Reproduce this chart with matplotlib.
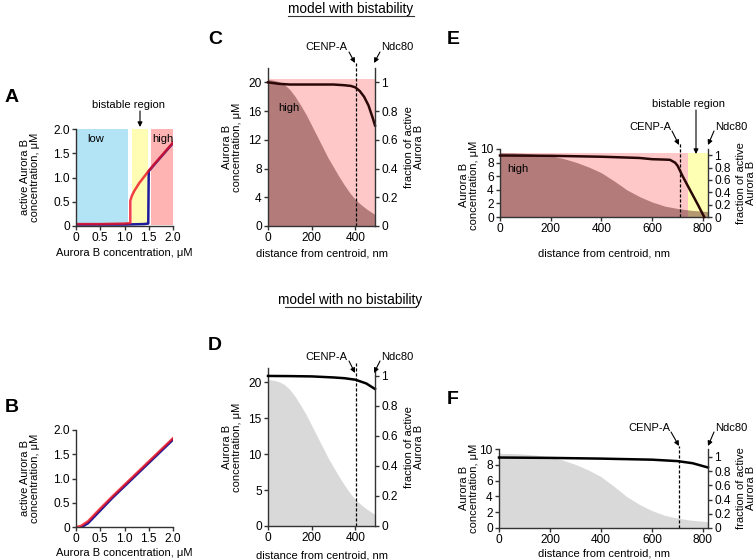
import numpy as np
import matplotlib.pyplot as plt
from matplotlib.lines import Line2D

plt.rcParams['font.family'] = ['Liberation Sans', 'DejaVu Sans']
plt.rcParams['font.size'] = 8
plt.rcParams['axes.linewidth'] = 1.0
plt.rcParams['axes.edgecolor'] = '#333333'

W, H = 756, 560
TICK_FS = 8.6

# ---- panel A : bistable dose response ----
a_low = [0.03, 1.07]
a_bist = [1.15, 1.48]
a_high = [1.54, 2.0]
a_red_x = [0, 0.5, 1.0, 1.12, 1.12, 1.15, 1.2, 1.3, 1.4, 1.5, 1.6, 1.8, 2.0]
a_red_y = [0.04, 0.04, 0.05, 0.06, 0.52, 0.62, 0.72, 0.88, 1.01, 1.14, 1.26, 1.49, 1.72]
a_blue_x = [0, 0.5, 1.0, 1.4, 1.49, 1.5, 1.6, 1.8, 2.0]
a_blue_y = [0.03, 0.03, 0.03, 0.04, 0.05, 1.13, 1.25, 1.48, 1.71]

# ---- panel B : no bistability ----
b_red_x = [0, 0.1, 0.25, 0.5, 0.75, 1.0, 1.5, 2.0]
b_red_y = [0, 0.02, 0.12, 0.38, 0.63, 0.87, 1.35, 1.83]
b_blue_x = [0.12, 0.25, 0.5, 0.75, 1.0, 1.5, 2.0]
b_blue_y = [0, 0.08, 0.34, 0.6, 0.84, 1.32, 1.8]

# ---- panels C/D : Aurora B gradient, 490 nm ----
cd_dist = [0, 25, 50, 75, 100, 125, 150, 175, 200, 225, 250, 275, 300, 325,
           350, 375, 400, 425, 450, 475, 490]
cd_conc = [20.4, 20.3, 20.1, 19.7, 19.0, 18.0, 16.8, 15.5, 14.0, 12.5, 11.0,
           9.5, 8.2, 6.9, 5.7, 4.6, 3.7, 3.0, 2.4, 1.9, 1.6]
c_frac_x = [0, 50, 100, 200, 300, 350, 380, 400, 420, 440, 460, 480, 490]
c_frac = [1.0, 0.99, 0.985, 0.985, 0.985, 0.98, 0.975, 0.965, 0.94, 0.9, 0.84, 0.75, 0.7]
d_frac_x = [0, 100, 200, 300, 350, 400, 450, 490]
d_frac = [1.0, 0.999, 0.997, 0.99, 0.985, 0.975, 0.95, 0.913]

# ---- panels E/F : Aurora B gradient, 820 nm ----
ef_dist = [0, 50, 100, 150, 200, 250, 300, 350, 400, 450, 500, 550, 600, 650,
           700, 750, 820]
ef_conc = [9.45, 9.43, 9.35, 9.2, 9.0, 8.6, 8.05, 7.35, 6.5, 5.3, 4.0, 3.0, 2.2,
           1.6, 1.25, 1.0, 0.8]
e_frac_x = [0, 200, 400, 550, 600, 640, 670, 690, 700, 720, 750, 780, 805]
e_frac = [0.995, 0.99, 0.975, 0.955, 0.935, 0.93, 0.925, 0.88, 0.83, 0.66, 0.43, 0.2, 0.0]
f_frac_x = [0, 200, 400, 600, 700, 760, 820]
f_frac = [0.99, 0.985, 0.975, 0.96, 0.94, 0.91, 0.85]

frac_ticks = [0, 0.2, 0.4, 0.6, 0.8, 1]
frac_labels = ['0', '0.2', '0.4', '0.6', '0.8', '1']


def box(x0, y0, x1, y1):
    return [x0 / W, 1 - y1 / H, (x1 - x0) / W, (y1 - y0) / H]


def ftxt(x, y, s, **kw):
    kw.setdefault('ha', 'center')
    kw.setdefault('va', 'center')
    fig.text(x / W, 1 - y / H, s, **kw)


def arrow(x0, y0, x1, y1):
    fig.add_artist(plt.Annotation('', xy=(x1, H - y1), xytext=(x0, H - y0),
                                  xycoords='figure pixels', textcoords='figure pixels',
                                  arrowprops=dict(arrowstyle='-|>', lw=0.8, color='k',
                                                  mutation_scale=7, shrinkA=0, shrinkB=0)))


def style(ax):
    ax.spines['top'].set_visible(False)
    ax.spines['right'].set_visible(False)
    ax.tick_params(length=3, width=1, pad=1.5, labelsize=TICK_FS, color='#333333')


fig = plt.figure(figsize=(W / 100, H / 100), dpi=100)

# titles
for (x0, x1, yt, s) in [(288, 414, 9, 'model with bistability'),
                        (285, 416, 300, 'model with no bistability')]:
    ftxt((x0 + x1) / 2, yt, s, fontsize=9.8)
    fig.add_artist(Line2D([x0 / W, x1 / W], [1 - (yt + 7) / H] * 2, color='#333333', lw=0.8))

# panel letters
for (x, y, s) in [(12, 97, 'A'), (12, 407, 'B'), (215, 40, 'C'), (215, 346, 'D'),
                  (453, 40, 'E'), (453, 400, 'F')]:
    ftxt(x, y, s, fontsize=14, fontweight='bold')

# ---------- A ----------
ax = fig.add_axes(box(76, 129, 173, 226))
style(ax)
ax.fill_between(a_low, 0.03, 2.0, color='#b2e4f5', lw=0)
ax.fill_between(a_bist, 0.03, 2.0, color='#fffcb4', lw=0)
ax.fill_between(a_high, 0.03, 2.0, color='#ffb4b4', lw=0)
ax.plot(a_blue_x, a_blue_y, color='#1c1c9c', lw=1.8)
ax.plot(a_red_x, a_red_y, color='#ee1020', lw=1.8, alpha=0.8)
ax.set_xlim(0, 2)
ax.set_ylim(0, 2)
ax.set_xticks([0, 0.5, 1.0, 1.5, 2.0], ['0', '0.5', '1.0', '1.5', '2.0'])
ax.set_yticks([0, 0.5, 1.0, 1.5, 2.0], ['0', '0.5', '1.0', '1.5', '2.0'])
ax.text(0.23, 1.8, 'low', va='center')
ax.text(1.57, 1.8, 'high', va='center')
ftxt(128, 105, 'bistable region')
arrow(140, 111, 140, 127)
ftxt(30, 177, 'active Aurora B\nconcentration, μM', rotation=90, linespacing=1.1)
ftxt(124, 253, 'Aurora B concentration, μM')

# ---------- B ----------
ax = fig.add_axes(box(76, 430, 173, 527))
style(ax)
ax.plot(b_blue_x, b_blue_y, color='#1c1c9c', lw=1.8)
ax.plot(b_red_x, b_red_y, color='#ee1020', lw=1.8, alpha=0.8)
ax.set_xlim(0, 2)
ax.set_ylim(0, 2)
ax.set_xticks([0, 0.5, 1.0, 1.5, 2.0], ['0', '0.5', '1.0', '1.5', '2.0'])
ax.set_yticks([0, 0.5, 1.0, 1.5, 2.0], ['0', '0.5', '1.0', '1.5', '2.0'])
ftxt(30, 478, 'active Aurora B\nconcentration, μM', rotation=90, linespacing=1.1)
ftxt(124, 553, 'Aurora B concentration, μM')


def gradient_panel(rect, dist, conc, fx, fy, xmax, ymax, fymax, yticks, xticks,
                   cenp, dash_top, bistable, line_col, fill_col, bg):
    ax = fig.add_axes(box(*rect))
    style(ax)
    if bg:
        ax.fill_between([0, bistable if bistable else xmax], 0, conc[0], color='#ffc8c8', lw=0)
        if bistable:
            ax.fill_between([bistable, xmax], 0, conc[0], color='#ffffb4', lw=0)
        ax.fill_between(dist, 0, conc, color='#5a1e1e', alpha=0.45, lw=0)
    else:
        ax.fill_between(dist, 0, conc, color=fill_col, lw=0)
    ax.set_xlim(0, xmax)
    ax.set_ylim(0, ymax)
    ax.set_yticks(yticks)
    ax.set_xticks(xticks)
    top = rect[1]
    ax.axvline(cenp, ymax=1 + (top - dash_top) / (rect[3] - rect[1]), clip_on=False,
               color='k', lw=0.9, ls=(0, (2.5, 1.5)))
    ax2 = ax.twinx()
    for s in ['top', 'left', 'bottom']:
        ax2.spines[s].set_visible(False)
    ax2.tick_params(length=3, width=1, pad=1.5, labelsize=TICK_FS, color='#333333')
    ax2.plot(fx, fy, color=line_col, lw=1.8, clip_on=False)
    ax2.set_ylim(0, fymax)
    ax2.set_yticks(frac_ticks, frac_labels)
    return ax


# ---------- C ----------
ax = gradient_panel((268, 68, 375, 226), cd_dist, cd_conc, c_frac_x, c_frac, 490, 22, 1.1,
                    [0, 4, 8, 12, 16, 20], [0, 200, 400], 405, 63, None, '#2b0808', None, True)
ax.text(45, 16.4, 'high', va='center')
ftxt(326, 47, 'CENP-A')
arrow(349, 52, 355, 63)
ftxt(397, 47, 'Ndc80')
arrow(380, 52, 374, 63)
ftxt(232, 147, 'Aurora B\nconcentration, μM', rotation=90, linespacing=1.1)
ftxt(414, 147, 'fraction of active\nAurora B', rotation=90, linespacing=1.1)
ftxt(322, 253, 'distance from centroid, nm')

# ---------- D ----------
ax = gradient_panel((268, 368, 375, 526), cd_dist, cd_conc, d_frac_x, d_frac, 490, 22, 1.053,
                    [0, 5, 10, 15, 20], [0, 200, 400], 405, 363, None, 'k', '#d9d9d9', False)
ftxt(326, 357, 'CENP-A')
arrow(349, 361, 355, 373)
ftxt(397, 357, 'Ndc80')
arrow(380, 361, 374, 373)
ftxt(232, 447, 'Aurora B\nconcentration, μM', rotation=90, linespacing=1.1)
ftxt(414, 447, 'fraction of active\nAurora B', rotation=90, linespacing=1.1)
ftxt(322, 555, 'distance from centroid, nm')

# ---------- E ----------
ax = gradient_panel((500, 149, 708, 217), ef_dist, ef_conc, e_frac_x, e_frac, 820, 10, 1.1,
                    [0, 2, 4, 6, 8, 10], [0, 200, 400, 600, 800], 710, 143, 740,
                    '#2b0808', None, True)
ax.text(30, 7.0, 'high', va='center')
ftxt(689, 104, 'bistable region')
arrow(696, 110, 696, 154)
ftxt(650, 127, 'CENP-A')
arrow(672, 131, 679, 145)
ftxt(731, 127, 'Ndc80')
arrow(714, 131, 708, 145)
ftxt(469, 185, 'Aurora B\nconcentration, μM', rotation=90, linespacing=1.1)
ftxt(746, 183, 'fraction of active\nAurora B', rotation=90, linespacing=1.1)
ftxt(604, 253, 'distance from centroid, nm')

# ---------- F ----------
ax = gradient_panel((499, 449, 708, 528), ef_dist, ef_conc, f_frac_x, f_frac, 820, 10, 1.11,
                    [0, 2, 4, 6, 8, 10], [0, 200, 400, 600, 800], 708, 446, None,
                    'k', '#d9d9d9', False)
ftxt(649, 428, 'CENP-A')
arrow(671, 432, 679, 446)
ftxt(731, 428, 'Ndc80')
arrow(714, 432, 708, 446)
ftxt(469, 488, 'Aurora B\nconcentration, μM', rotation=90, linespacing=1.1)
ftxt(746, 488, 'fraction of active\nAurora B', rotation=90, linespacing=1.1)
ftxt(604, 553, 'distance from centroid, nm')

fig.savefig('out.png', dpi=100)
